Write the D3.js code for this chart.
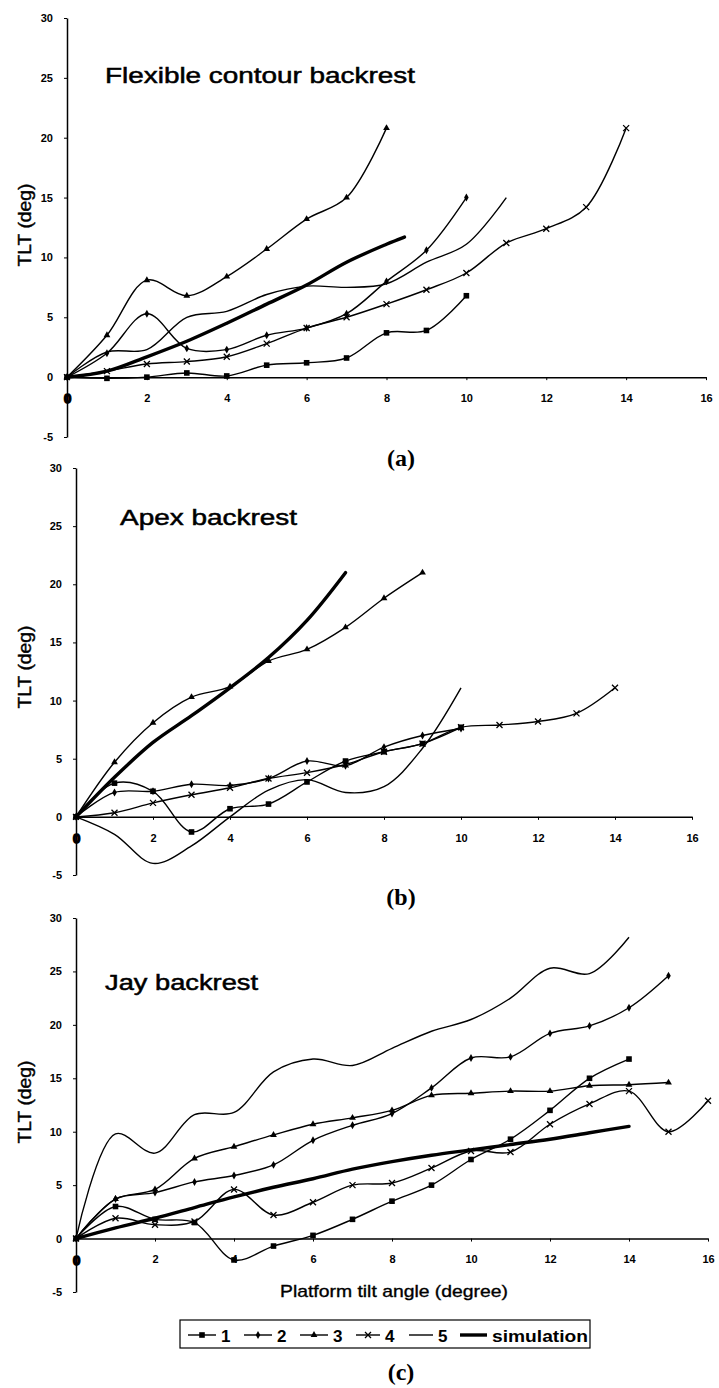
<!DOCTYPE html>
<html>
<head>
<meta charset="utf-8">
<script src="https://d3js.org/d3.v7.min.js"></script>
<style>
  body { margin: 0; background: #fff; }
  svg text { font-family: "Liberation Sans", Arial, sans-serif; fill: #000; }
</style>
</head>
<body>
<svg id="fig" width="719" height="1388"></svg>
<script>
// tick values shared by the three panels
var xTicks = [0, 2, 4, 6, 8, 10, 12, 14, 16];
var yTicks = [-5, 0, 5, 10, 15, 20, 25, 30];
var seriesNames = ["1", "2", "3", "4", "5", "simulation"];

// (a) Flexible contour backrest, TLT per platform tilt 0,1,2,...
var flex1 = [0, -0.1, 0, 0.35, 0.1, 1.0, 1.2, 1.6, 3.7, 3.9, 6.8];
var flex2 = [0, 2.0, 5.3, 2.4, 2.3, 3.5, 4.1, 5.3, 8.0, 10.6, 15.0];
var flex3 = [0, 3.5, 8.1, 6.8, 8.4, 10.7, 13.2, 15.0, 20.8];
var flex4 = [0, 0.5, 1.1, 1.3, 1.7, 2.8, 4.1, 5.0, 6.1, 7.3, 8.7, 11.2, 12.4, 14.2, 20.8];
var flex5 = [0, 2.1, 2.3, 5.0, 5.5, 6.9, 7.6, 7.5, 7.8, 9.6, 11.1, 15.0];
var flexSimX = [0, 1, 2, 3, 4, 5, 6, 7, 8, 8.45];
var flexSimY = [0, 0.5, 1.7, 3.0, 4.5, 6.1, 7.7, 9.6, 11.1, 11.7];

// (b) Apex backrest
var apex1 = [0, 2.9, 2.2, -1.3, 0.7, 1.1, 3.0, 4.8, 5.6, 6.3, 7.7];
var apex2 = [0, 2.1, 2.2, 2.8, 2.7, 3.3, 4.8, 4.4, 6.0, 7.0, 7.6];
var apex3 = [0, 4.7, 8.1, 10.3, 11.2, 13.4, 14.4, 16.3, 18.8, 21.0];
var apex4 = [0, 0.35, 1.2, 1.9, 2.5, 3.3, 3.8, 4.5, 5.6, 6.3, 7.7, 7.9, 8.2, 8.9, 11.1];
var apex5 = [0, -1.5, -4.0, -2.5, 0, 2.3, 3.2, 2.1, 2.6, 5.9, 11.1];
var apexSimX = [0, 1, 2, 3, 4, 5, 6, 7];
var apexSimY = [0, 3.4, 6.4, 8.7, 11.1, 13.7, 16.9, 21.0];

// (c) Jay backrest
var jay1 = [0, 3.0, 1.8, 1.5, -2.0, -0.7, 0.3, 1.8, 3.5, 5.0, 7.4, 9.3, 12.0, 15.0, 16.8];
var jay2 = [0, 3.7, 4.3, 5.3, 5.9, 6.9, 9.2, 10.6, 11.7, 14.1, 16.9, 17.0, 19.2, 19.9, 21.6, 24.6];
var jay3 = [0, 3.7, 4.6, 7.5, 8.6, 9.7, 10.7, 11.3, 12.0, 13.4, 13.6, 13.8, 13.8, 14.3, 14.4, 14.6];
var jay4 = [0, 1.9, 1.3, 1.6, 4.6, 2.2, 3.4, 5.0, 5.2, 6.6, 8.2, 8.1, 10.7, 12.6, 13.8, 10.0, 12.9];
var jay5 = [0, 9.8, 8.0, 11.6, 11.8, 15.6, 16.8, 16.2, 17.8, 19.4, 20.5, 22.5, 25.3, 24.8, 28.2];
var jaySimX = [0, 1, 2, 3, 4, 5, 6, 7, 8, 9, 10, 11, 12, 13, 14];
var jaySimY = [0, 1.0, 1.9, 2.9, 3.9, 4.8, 5.6, 6.5, 7.2, 7.8, 8.3, 8.8, 9.3, 9.9, 10.5];

var svg = d3.select("#fig");

var panels = [
  { title: "Flexible contour backrest", cap: "(a)",
    series: [flex1, flex2, flex3, flex4, flex5], simX: flexSimX, simY: flexSimY,
    x0: 67, x1: 706, yBot: 437, yTop: 18, tx: 105, ty: 83, tw: 310, labY: 225, capY: 466 },
  { title: "Apex backrest", cap: "(b)",
    series: [apex1, apex2, apex3, apex4, apex5], simX: apexSimX, simY: apexSimY,
    x0: 76, x1: 692, yBot: 875, yTop: 468, tx: 120, ty: 525, tw: 177, labY: 667, capY: 905 },
  { title: "Jay backrest", cap: "(c)",
    series: [jay1, jay2, jay3, jay4, jay5], simX: jaySimX, simY: jaySimY,
    x0: 76, x1: 708, yBot: 1292, yTop: 918, tx: 105, ty: 990, tw: 153, labY: 1102, capY: 1380 }
];

// marker per series index: square, diamond, triangle, cross, none
function drawMarker(g, k, cx, cy) {
  if (k == 0) {
    g.append("rect").attr("x", cx - 2.8).attr("y", cy - 2.8).attr("width", 5.6).attr("height", 5.6).attr("fill", "#000");
  } else if (k == 1) {
    g.append("path").attr("transform", "translate(" + cx + "," + cy + ")")
      .attr("d", d3.symbol(d3.symbolDiamond, 18)()).attr("fill", "#000");
  } else if (k == 2) {
    g.append("path").attr("transform", "translate(" + cx + "," + cy + ")")
      .attr("d", d3.symbol(d3.symbolTriangle, 20)()).attr("fill", "#000");
  } else if (k == 3) {
    g.append("path").attr("transform", "translate(" + cx + "," + cy + ")")
      .attr("d", "M-3,-3L3,3M-3,3L3,-3").attr("stroke", "#000").attr("stroke-width", 1.3).attr("fill", "none");
  }
}

panels.forEach(function(p) {
  var x = d3.scaleLinear().domain([0, 16]).range([p.x0, p.x1]);
  var y = d3.scaleLinear().domain([-5, 30]).range([p.yBot, p.yTop]);
  var g = svg.append("g");

  var yAxis = d3.axisLeft(y).tickValues(yTicks).tickSize(3).tickSizeOuter(0).tickPadding(11)
    .tickFormat(function(d) { return String(d); });
  var ya = g.append("g").attr("transform", "translate(" + p.x0 + ",0)").call(yAxis);
  ya.selectAll("text").style("font-size", "11px").style("font-weight", "bold");

  var xAxis = d3.axisBottom(x).tickValues(xTicks).tickSize(3).tickSizeOuter(0).tickPadding(14)
    .tickFormat(function(d) { return String(d); });
  var xa = g.append("g").attr("transform", "translate(0," + y(0) + ")").call(xAxis);
  xa.selectAll("text").style("font-size", "11px").style("font-weight", "bold");
  xa.selectAll(".tick").filter(function(d) { return d == 0; }).select("text")
    .style("font-size", "13px").attr("stroke", "#000").attr("stroke-width", 1.6);

  g.selectAll(".domain").attr("stroke", "#000").attr("stroke-width", 1.5);
  g.selectAll(".tick line").attr("stroke", "#000").attr("stroke-width", 1);

  var line = d3.line().x(function(d) { return x(d[0]); }).y(function(d) { return y(d[1]); })
    .curve(d3.curveCatmullRom.alpha(0.5));

  p.series.forEach(function(vals, k) {
    var pts = vals.map(function(v, i) { return [i, v]; });
    g.append("path").attr("d", line(pts)).attr("fill", "none")
      .attr("stroke", "#000").attr("stroke-width", 1.4);
    pts.forEach(function(d) { drawMarker(g, k, x(d[0]), y(d[1])); });
  });

  var sim = p.simX.map(function(v, i) { return [v, p.simY[i]]; });
  g.append("path").attr("d", line(sim)).attr("fill", "none")
    .attr("stroke", "#000").attr("stroke-width", 3.4).attr("stroke-linecap", "round");

  g.append("text").attr("x", p.tx).attr("y", p.ty).text(p.title)
    .style("font-size", "22px").attr("stroke", "#000").attr("stroke-width", 0.5)
    .attr("textLength", p.tw).attr("lengthAdjust", "spacingAndGlyphs");

  g.append("text").attr("transform", "translate(31," + p.labY + ") rotate(-90)")
    .attr("text-anchor", "middle").text("TLT (deg)").style("font-size", "18px")
    .attr("stroke", "#000").attr("stroke-width", 0.4)
    .attr("textLength", 83).attr("lengthAdjust", "spacingAndGlyphs");

  g.append("text").attr("x", 401).attr("y", p.capY).attr("text-anchor", "middle").text(p.cap)
    .style("font-family", "'Liberation Serif', 'Times New Roman', serif")
    .style("font-size", "24px").style("font-weight", "bold");
});

// x axis title under panel (c)
svg.append("text").attr("x", 394).attr("y", 1297).attr("text-anchor", "middle")
  .text("Platform tilt angle (degree)").style("font-size", "17px")
  .attr("stroke", "#000").attr("stroke-width", 0.35)
  .attr("textLength", 228).attr("lengthAdjust", "spacingAndGlyphs");

// legend
var lg = svg.append("g");
lg.append("rect").attr("x", 180).attr("y", 1320).attr("width", 410).attr("height", 28)
  .attr("fill", "none").attr("stroke", "#000").attr("stroke-width", 1.2);
var legX = [188, 244, 300, 356, 409, 460];
var legLine = [28, 28, 28, 24, 24, 27];
seriesNames.forEach(function(name, k) {
  var lx = legX[k], ly = 1335;
  lg.append("line").attr("x1", lx).attr("x2", lx + legLine[k]).attr("y1", ly).attr("y2", ly)
    .attr("stroke", "#000").attr("stroke-width", k == 5 ? 3.4 : 1.4);
  if (k < 5) drawMarker(lg, k, lx + legLine[k] / 2, ly);
  var t = lg.append("text").attr("x", lx + legLine[k] + 5).attr("y", 1342).text(name)
    .style("font-size", "17px").style("font-weight", "bold");
  if (k == 5) t.attr("textLength", 96).attr("lengthAdjust", "spacingAndGlyphs");
});
</script>
</body>
</html>
